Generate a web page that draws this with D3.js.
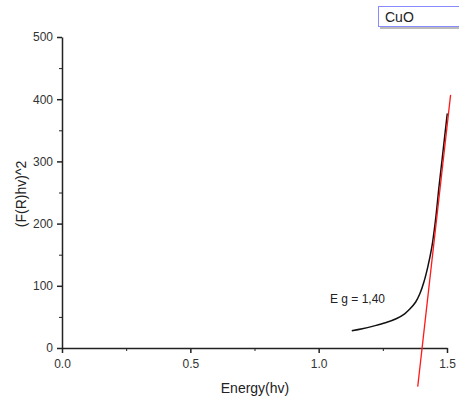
<!DOCTYPE html>
<html>
<head>
<meta charset="utf-8">
<script src="https://cdn.jsdelivr.net/npm/d3@7"></script>
<style>
	body { margin: 0; background: #fff; font-family: "Liberation Sans", Arial, sans-serif; }
	.axis text { font-size: 12px; fill: #333; font-family: "Liberation Sans", Arial, sans-serif; }
	.axis path, .axis line { stroke: #222; }
</style>
</head>
<body>
<div id="chart"></div>
<script>
// measured curve (energy, (F(R)hv)^2)
var energy = [1.129, 1.17, 1.213, 1.26, 1.304, 1.335, 1.356, 1.378, 1.395, 1.41, 1.425, 1.440, 1.455, 1.469, 1.485, 1.501];
var absorb = [27.8, 31, 35.2, 40.5, 47.5, 55, 63, 74, 88, 106, 130, 160, 205, 260, 318, 377];
// tangent line for band gap
var fitX = [1.386, 1.514];
var fitY = [-62, 407];
var xTicks = [0, 0.5, 1.0, 1.5];
var yTicks = [0, 100, 200, 300, 400, 500];
var gapLabel = 'E g = 1,40';
var legendLabel = 'CuO';

var width = 459, height = 403,
	margin = { top: 37, right: 12, bottom: 55, left: 62 };

var svg = d3.select('#chart').append('svg')
	.attr('width', width)
	.attr('height', height);

var x = d3.scaleLinear().domain([0, 1.5]).range([margin.left, 447]);
var y = d3.scaleLinear().domain([0, 500]).range([348, margin.top]);

// minor ticks
svg.append('g')
	.attr('class', 'axis')
	.attr('transform', 'translate(0,348)')
	.call(d3.axisBottom(x).tickValues([0.25, 0.75, 1.25]).tickSize(3).tickFormat(''))
	.select('.domain').remove();
svg.append('g')
	.attr('class', 'axis')
	.attr('transform', 'translate(' + margin.left + ',0)')
	.call(d3.axisLeft(y).tickValues([50, 150, 250, 350, 450]).tickSize(3).tickFormat(''))
	.select('.domain').remove();

svg.append('g')
	.attr('class', 'axis')
	.attr('transform', 'translate(0,348)')
	.call(d3.axisBottom(x).tickValues(xTicks).tickSize(5).tickSizeOuter(0).tickPadding(6).tickFormat(d3.format('.1f')))
	.selectAll('path, line').attr('stroke-width', 1.5);

svg.append('g')
	.attr('class', 'axis')
	.attr('transform', 'translate(' + margin.left + ',0)')
	.call(d3.axisLeft(y).tickValues(yTicks).tickSize(5).tickSizeOuter(0).tickPadding(4))
	.selectAll('path, line').attr('stroke-width', 1.5);

// axis titles
svg.append('text')
	.attr('x', 255)
	.attr('y', 393)
	.attr('text-anchor', 'middle')
	.attr('font-size', 14)
	.attr('fill', '#222')
	.text('Energy(hv)');

svg.append('text')
	.attr('transform', 'translate(26,194) rotate(-90)')
	.attr('text-anchor', 'middle')
	.attr('font-size', 14)
	.attr('fill', '#222')
	.text('(F(R)hv)^2');

var data = energy.map(function (e, i) { return { x: e, y: absorb[i] }; });
var line = d3.line()
	.curve(d3.curveCatmullRom)
	.x(function (d) { return x(d.x); })
	.y(function (d) { return y(d.y); });

svg.append('path')
	.datum(data)
	.attr('fill', 'none')
	.attr('stroke', '#111')
	.attr('stroke-width', 1.5)
	.attr('d', line);

svg.append('path')
	.datum(fitX.map(function (e, i) { return { x: e, y: fitY[i] }; }))
	.attr('fill', 'none')
	.attr('stroke', '#ff1a1a')
	.attr('stroke-width', 1.3)
	.attr('d', d3.line().x(function (d) { return x(d.x); }).y(function (d) { return y(d.y); }));

svg.append('text')
	.attr('x', 330)
	.attr('y', 303)
	.attr('font-size', 12)
	.attr('fill', '#222')
	.text(gapLabel);

// legend box
var legend = svg.append('g');
legend.append('rect')
	.attr('x', 380).attr('y', 8)
	.attr('width', 90).attr('height', 21)
	.attr('fill', '#bbb');
legend.append('rect')
	.attr('x', 378.5).attr('y', 6.5)
	.attr('width', 90).attr('height', 20)
	.attr('fill', '#fff')
	.attr('stroke', '#8a8aff')
	.attr('stroke-width', 1);
legend.append('text')
	.attr('x', 385)
	.attr('y', 22)
	.attr('font-size', 14)
	.attr('fill', '#222')
	.text(legendLabel);
</script>
</body>
</html>
